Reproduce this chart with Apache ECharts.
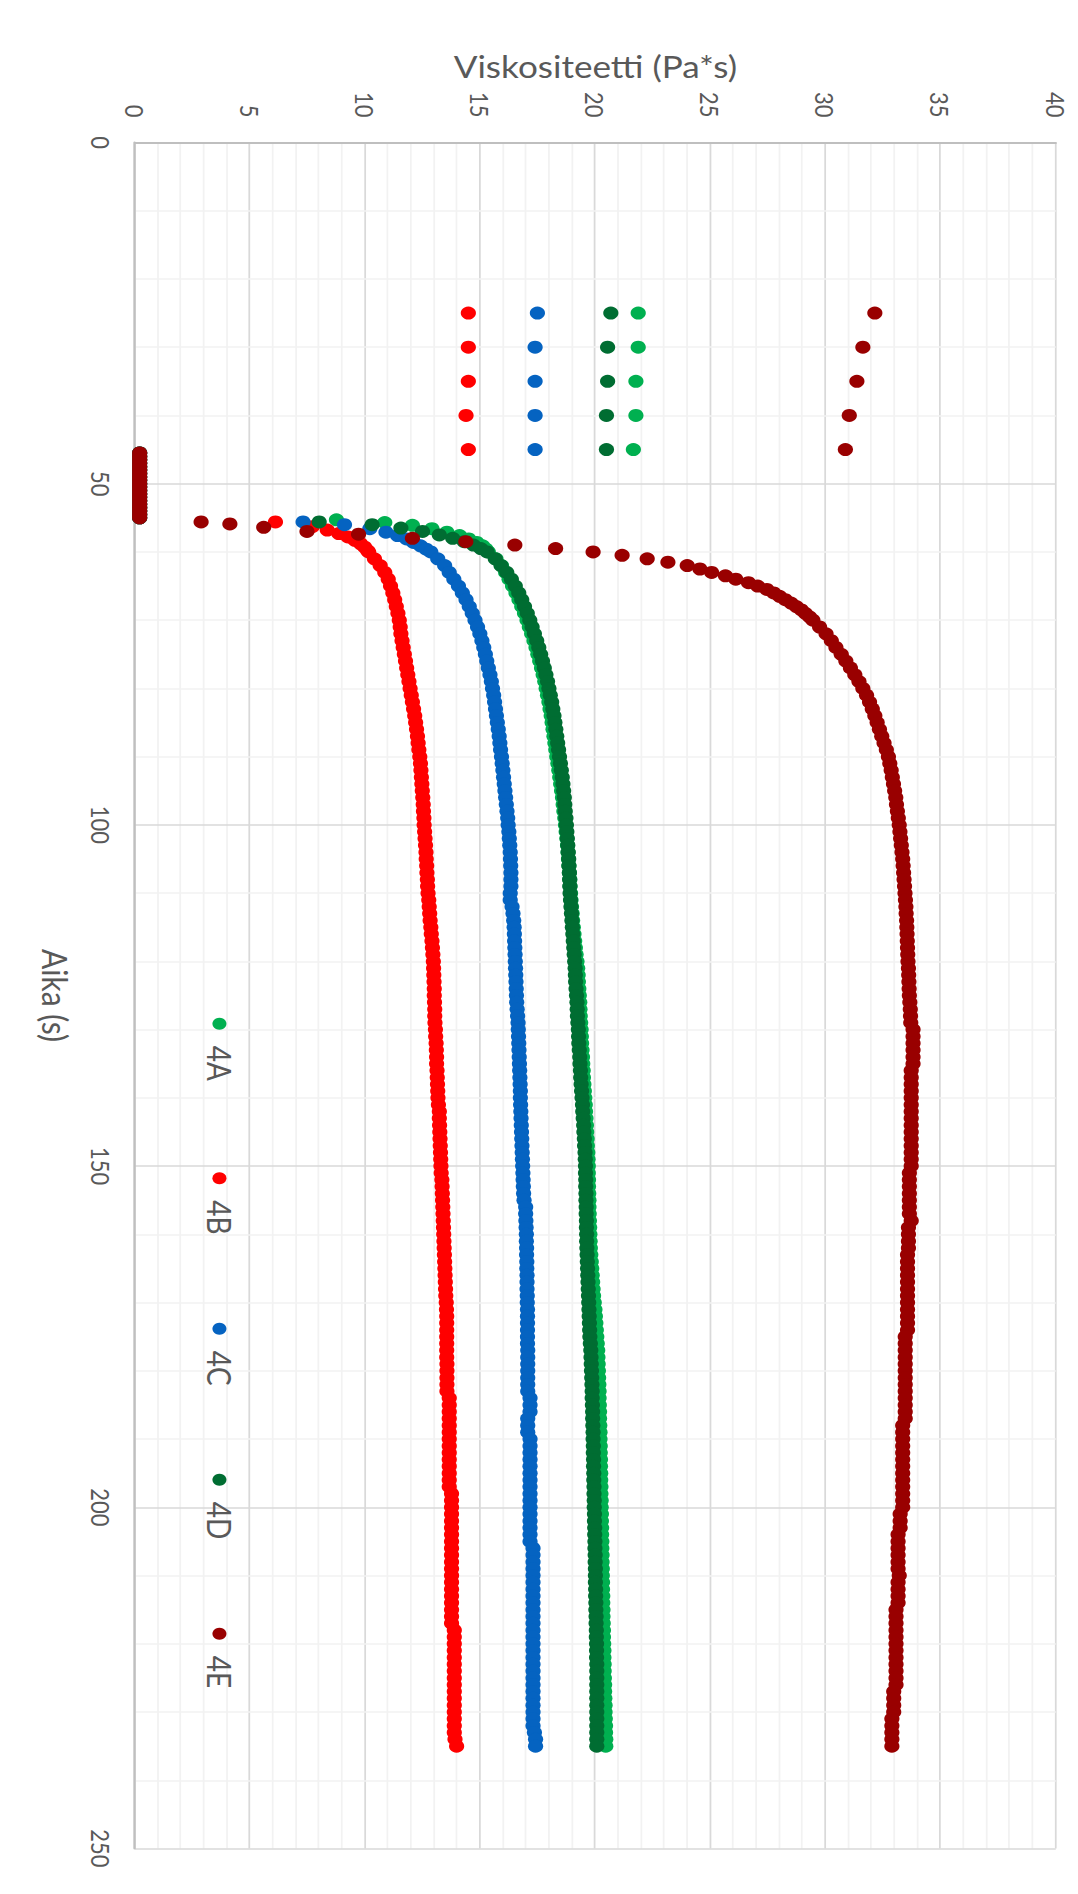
<!DOCTYPE html>
<html>
<head>
<meta charset="utf-8">
<title>Viskositeetti</title>
<script src="https://cdn.jsdelivr.net/npm/echarts@6.0.0/dist/echarts.min.js"></script>
<style>
  html, body { margin: 0; padding: 0; background: #ffffff; width: 1078px; height: 1894px; overflow: hidden; }
  #topRule { position: absolute; left: 0; top: 3px; width: 1078px; height: 3px; background: #d9d9d9; }
  /* The chart is laid out landscape and turned a quarter turn clockwise,
     with the horizontal screen direction stretched by 1078/921. */
  #chart { position: absolute; left: 0; top: 0; width: 1894px; height: 921px;
           transform-origin: 0 0; transform: matrix(0, 1, -1.1705, 0, 1078, 0); }
</style>
</head>
<body>
<div id="topRule"></div>
<div id="chart"></div>
<script>
// Sample names and marker colours
const sampleNames = ['4A', '4B', '4C', '4D', '4E'];
const sampleColors = ['#00B050', '#FF0000', '#0563C1', '#006D32', '#990000'];

// Resting readings before the shear step (s)
const startTimes = [25, 30, 35, 40, 45];
const start4A = [21.86, 21.86, 21.76, 21.76, 21.65];
const start4B = [14.48, 14.48, 14.48, 14.38, 14.48];
const start4C = [17.48, 17.38, 17.38, 17.38, 17.38];
const start4D = [20.67, 20.53, 20.53, 20.48, 20.48];
const start4E = [32.14, 31.62, 31.36, 31.03, 30.86];

// Readings near zero while the spindle is stopped (s)
const zeroTimes = [45.5, 46, 46.5, 47, 47.5, 48, 48.5, 49, 49.5, 50,
                   50.5, 51, 51.5, 52, 52.5, 53, 53.5, 54, 54.5, 55];
const zeroLevel = [0.2, 0.2, 0.2, 0.2, 0.2, 0.2, 0.2, 0.2, 0.2, 0.2,
                   0.2, 0.2, 0.2, 0.2, 0.2, 0.2, 0.2, 0.2, 0.2, 0.2];

// Recovery right after restart, [time, viscosity]
const rise4A = [[55.3, 8.75], [55.7, 10.85], [56.1, 12.05], [56.6, 12.9], [57.1, 13.55],
                [57.6, 14.1], [58.1, 14.5], [58.6, 14.85], [59.1, 15.1], [59.6, 15.25]];
const rise4B = [[55.6, 6.1], [56.3, 7.7], [56.8, 8.35], [57.3, 8.85], [57.8, 9.25],
                [58.3, 9.55], [58.8, 9.8], [59.3, 9.98], [59.8, 10.1]];
const rise4C = [[55.6, 7.3], [56.0, 9.1], [56.6, 10.2], [57.1, 10.9], [57.6, 11.4],
                [58.1, 11.8], [58.6, 12.1], [59.1, 12.4], [59.6, 12.65]];
const rise4D = [[55.6, 8.0], [56.0, 10.3], [56.5, 11.55], [57.0, 12.49], [57.5, 13.22],
                [58.0, 13.8], [58.5, 14.3], [59.0, 14.7], [59.5, 15.02]];
const rise4E = [[55.6, 2.87], [55.9, 4.12], [56.4, 5.59], [57.0, 7.47], [57.4, 9.71],
                [58.0, 12.05], [58.5, 14.37], [59.0, 16.5], [59.5, 18.27], [60.5, 21.16],
                [61.5, 23.15], [62.5, 24.54], [63.5, 25.65], [64.5, 26.65], [65.5, 27.45],
                [66.5, 28.0], [67.5, 28.5], [68.5, 28.95], [69.5, 29.3]];

// Logged times for the rest of the run (s)
const tailTimes = [
  60, 61, 62, 63, 64, 65, 66, 67, 68, 69,
  70, 71, 72, 73, 74, 75, 76, 77, 78, 79,
  80, 81, 82, 83, 84, 85, 86, 87, 88, 89,
  90, 91, 92, 93, 94, 95, 96, 97, 98, 99,
  100, 101, 102, 103, 104, 105, 106, 107, 108, 109,
  110, 111, 112, 113, 114, 115, 116, 117, 118, 119,
  120, 121, 122, 123, 124, 125, 126, 127, 128, 129,
  130, 131, 132, 133, 134, 135, 136, 137, 138, 139,
  140, 141, 142, 143, 144, 145, 146, 147, 148, 149,
  150, 151, 152, 153, 154, 155, 156, 157, 158, 159,
  160, 161, 162, 163, 164, 165, 166, 167, 168, 169,
  170, 171, 172, 173, 174, 175, 176, 177, 178, 179,
  180, 181, 182, 183, 184, 185, 186, 187, 188, 189,
  190, 191, 192, 193, 194, 195, 196, 197, 198, 199,
  200, 201, 202, 203, 204, 205, 206, 207, 208, 209,
  210, 211, 212, 213, 214, 215, 216, 217, 218, 219,
  220, 221, 222, 223, 224, 225, 226, 227, 228, 229,
  230, 231, 232, 233, 234, 235
];

const tail4A = [
  15.35, 15.68, 15.92, 16.1, 16.25, 16.4, 16.55, 16.68, 16.8, 16.92,
  17.03, 17.13, 17.23, 17.33, 17.42, 17.5, 17.58, 17.66, 17.73, 17.8,
  17.86, 17.92, 17.98, 18.03, 18.08, 18.12, 18.16, 18.2, 18.24, 18.28,
  18.32, 18.37, 18.41, 18.45, 18.49, 18.53, 18.57, 18.6, 18.63, 18.67,
  18.7, 18.73, 18.76, 18.79, 18.81, 18.83, 18.85, 18.87, 18.89, 18.9,
  18.92, 18.94, 18.96, 18.99, 19.01, 19.04, 19.07, 19.1, 19.13, 19.16,
  19.2, 19.23, 19.25, 19.26, 19.28, 19.3, 19.32, 19.33, 19.34, 19.36,
  19.38, 19.39, 19.4, 19.42, 19.44, 19.45, 19.47, 19.48, 19.5, 19.52,
  19.54, 19.56, 19.57, 19.59, 19.61, 19.62, 19.64, 19.65, 19.67, 19.68,
  19.69, 19.69, 19.7, 19.7, 19.71, 19.72, 19.72, 19.73, 19.74, 19.75,
  19.76, 19.77, 19.78, 19.8, 19.82, 19.84, 19.86, 19.88, 19.9, 19.92,
  19.95, 19.98, 20.0, 20.02, 20.04, 20.06, 20.08, 20.1, 20.11, 20.12,
  20.13, 20.14, 20.15, 20.16, 20.16, 20.17, 20.18, 20.18, 20.19, 20.2,
  20.2, 20.21, 20.21, 20.22, 20.22, 20.23, 20.23, 20.24, 20.24, 20.25,
  20.25, 20.26, 20.26, 20.27, 20.27, 20.28, 20.28, 20.29, 20.29, 20.3,
  20.3, 20.31, 20.31, 20.32, 20.32, 20.33, 20.33, 20.34, 20.35, 20.35,
  20.36, 20.37, 20.37, 20.38, 20.38, 20.39, 20.4, 20.4, 20.41, 20.42,
  20.42, 20.43, 20.44, 20.44, 20.45, 20.45
];

const tail4B = [
  10.15, 10.4, 10.65, 10.85, 11.0, 11.1, 11.2, 11.28, 11.35, 11.42,
  11.48, 11.52, 11.55, 11.6, 11.65, 11.7, 11.75, 11.8, 11.85, 11.9,
  11.95, 12.0, 12.05, 12.1, 12.15, 12.19, 12.23, 12.27, 12.3, 12.33,
  12.37, 12.4, 12.42, 12.44, 12.46, 12.48, 12.5, 12.52, 12.53, 12.55,
  12.56, 12.58, 12.6, 12.62, 12.64, 12.65, 12.67, 12.68, 12.7, 12.71,
  12.73, 12.76, 12.78, 12.8, 12.82, 12.85, 12.87, 12.9, 12.92, 12.94,
  12.96, 12.97, 12.98, 12.99, 13.0, 13.0, 13.01, 13.02, 13.02, 13.03,
  13.05, 13.06, 13.08, 13.09, 13.1, 13.1, 13.12, 13.13, 13.14, 13.15,
  13.16, 13.18, 13.22, 13.22, 13.23, 13.24, 13.25, 13.26, 13.27, 13.28,
  13.29, 13.3, 13.33, 13.34, 13.35, 13.36, 13.37, 13.38, 13.39, 13.4,
  13.41, 13.42, 13.43, 13.44, 13.45, 13.46, 13.47, 13.48, 13.49, 13.5,
  13.52, 13.53, 13.54, 13.54, 13.54, 13.54, 13.54, 13.54, 13.54, 13.55,
  13.55, 13.55, 13.55, 13.55, 13.65, 13.65, 13.65, 13.65, 13.65, 13.65,
  13.65, 13.65, 13.65, 13.65, 13.65, 13.65, 13.65, 13.65, 13.75, 13.75,
  13.75, 13.75, 13.75, 13.75, 13.75, 13.75, 13.75, 13.75, 13.75, 13.75,
  13.75, 13.75, 13.75, 13.75, 13.75, 13.75, 13.75, 13.75, 13.87, 13.87,
  13.87, 13.87, 13.87, 13.87, 13.87, 13.87, 13.87, 13.87, 13.87, 13.87,
  13.87, 13.87, 13.87, 13.87, 13.9, 13.97
];

const tail4C = [
  12.85, 13.15, 13.45, 13.65, 13.85, 14.05, 14.22, 14.38, 14.52, 14.65,
  14.77, 14.88, 14.98, 15.07, 15.15, 15.22, 15.28, 15.35, 15.42, 15.48,
  15.53, 15.58, 15.62, 15.66, 15.7, 15.74, 15.78, 15.82, 15.85, 15.88,
  15.92, 15.95, 15.98, 16.01, 16.04, 16.07, 16.1, 16.13, 16.16, 16.19,
  16.21, 16.24, 16.26, 16.28, 16.3, 16.31, 16.32, 16.33, 16.33, 16.33,
  16.3, 16.3, 16.38, 16.42, 16.45, 16.47, 16.48, 16.49, 16.5, 16.51,
  16.52, 16.53, 16.54, 16.55, 16.56, 16.57, 16.58, 16.6, 16.62, 16.64,
  16.65, 16.66, 16.67, 16.68, 16.69, 16.7, 16.71, 16.72, 16.73, 16.74,
  16.74, 16.75, 16.76, 16.77, 16.78, 16.79, 16.8, 16.81, 16.82, 16.83,
  16.84, 16.85, 16.86, 16.87, 16.88, 16.9, 16.97, 16.97, 16.98, 16.99,
  17.0, 17.0, 17.01, 17.01, 17.02, 17.02, 17.03, 17.03, 17.03, 17.04,
  17.04, 17.05, 17.05, 17.05, 17.05, 17.05, 17.05, 17.06, 17.06, 17.06,
  17.06, 17.06, 17.06, 17.06, 17.16, 17.16, 17.16, 17.06, 17.06, 17.06,
  17.16, 17.16, 17.16, 17.16, 17.16, 17.16, 17.16, 17.16, 17.16, 17.16,
  17.16, 17.16, 17.16, 17.16, 17.16, 17.16, 17.29, 17.29, 17.29, 17.29,
  17.29, 17.29, 17.29, 17.29, 17.29, 17.29, 17.29, 17.29, 17.29, 17.29,
  17.29, 17.29, 17.29, 17.29, 17.29, 17.29, 17.29, 17.29, 17.29, 17.29,
  17.29, 17.29, 17.29, 17.35, 17.4, 17.4
];

const tail4D = [
  15.3, 15.65, 15.9, 16.15, 16.35, 16.52, 16.67, 16.8, 16.92, 17.04,
  17.15, 17.25, 17.35, 17.45, 17.54, 17.62, 17.7, 17.78, 17.85, 17.92,
  17.98, 18.04, 18.1, 18.15, 18.2, 18.24, 18.28, 18.32, 18.36, 18.4,
  18.44, 18.48, 18.52, 18.56, 18.59, 18.62, 18.65, 18.67, 18.69, 18.72,
  18.74, 18.76, 18.78, 18.8, 18.82, 18.84, 18.85, 18.87, 18.88, 18.89,
  18.9, 18.92, 18.94, 18.96, 18.98, 19.0, 19.02, 19.04, 19.06, 19.08,
  19.1, 19.12, 19.13, 19.14, 19.16, 19.18, 19.2, 19.21, 19.22, 19.24,
  19.26, 19.27, 19.28, 19.3, 19.32, 19.33, 19.35, 19.36, 19.38, 19.4,
  19.42, 19.44, 19.45, 19.47, 19.49, 19.5, 19.52, 19.53, 19.55, 19.56,
  19.57, 19.57, 19.58, 19.58, 19.59, 19.59, 19.6, 19.6, 19.61, 19.61,
  19.62, 19.62, 19.63, 19.64, 19.65, 19.66, 19.67, 19.68, 19.69, 19.7,
  19.71, 19.72, 19.73, 19.74, 19.75, 19.76, 19.78, 19.8, 19.81, 19.82,
  19.83, 19.84, 19.85, 19.86, 19.86, 19.87, 19.88, 19.88, 19.89, 19.9,
  19.9, 19.91, 19.91, 19.92, 19.92, 19.93, 19.93, 19.94, 19.94, 19.95,
  19.95, 19.96, 19.96, 19.97, 19.97, 19.98, 19.98, 19.99, 19.99, 20.0,
  20.0, 20.0, 20.01, 20.01, 20.02, 20.02, 20.03, 20.03, 20.04, 20.04,
  20.05, 20.05, 20.05, 20.06, 20.06, 20.06, 20.06, 20.06, 20.06, 20.06,
  20.06, 20.06, 20.06, 20.06, 20.06, 20.06
];

const tail4E = [
  19.9, 22.25, 23.99, 25.05, 26.1, 27.05, 27.75, 28.25, 28.73, 29.12,
  29.45, 29.74, 30.02, 30.25, 30.45, 30.68, 30.88, 31.08, 31.27, 31.45,
  31.62, 31.78, 31.91, 32.03, 32.14, 32.24, 32.34, 32.44, 32.54, 32.64,
  32.73, 32.79, 32.85, 32.9, 32.95, 33.0, 33.05, 33.08, 33.12, 33.16,
  33.2, 33.23, 33.26, 33.29, 33.32, 33.35, 33.37, 33.39, 33.41, 33.43,
  33.45, 33.47, 33.49, 33.5, 33.52, 33.53, 33.54, 33.55, 33.56, 33.57,
  33.58, 33.6, 33.61, 33.62, 33.63, 33.64, 33.66, 33.68, 33.69, 33.7,
  33.8, 33.8, 33.8, 33.8, 33.8, 33.8, 33.72, 33.72, 33.72, 33.72,
  33.72, 33.72, 33.72, 33.72, 33.72, 33.72, 33.72, 33.72, 33.72, 33.72,
  33.72, 33.64, 33.64, 33.64, 33.64, 33.64, 33.64, 33.64, 33.72, 33.6,
  33.6, 33.6, 33.6, 33.56, 33.56, 33.56, 33.56, 33.56, 33.56, 33.56,
  33.56, 33.56, 33.56, 33.56, 33.56, 33.46, 33.46, 33.46, 33.46, 33.46,
  33.46, 33.46, 33.46, 33.46, 33.46, 33.46, 33.46, 33.46, 33.35, 33.35,
  33.35, 33.35, 33.35, 33.35, 33.35, 33.35, 33.35, 33.35, 33.35, 33.35,
  33.35, 33.24, 33.24, 33.24, 33.15, 33.15, 33.15, 33.15, 33.15, 33.15,
  33.2, 33.15, 33.15, 33.15, 33.15, 33.06, 33.06, 33.06, 33.06, 33.06,
  33.06, 33.06, 33.06, 33.06, 33.06, 33.06, 33.06, 32.96, 32.96, 32.96,
  32.96, 32.88, 32.88, 32.88, 32.88, 32.88
];

// Axis tick values
const timeTicks = [0, 50, 100, 150, 200, 250];
const viscTicks = [0, 5, 10, 15, 20, 25, 30, 35, 40];

// Legend slot positions along the time direction (px)
const legendSlots = [1017.7, 1172.3, 1322.7, 1473.7, 1627.7];

function collectPoints(startVals, risePairs, tailVals) {
  const pts = [];
  startTimes.forEach((t, i) => pts.push([t, startVals[i]]));
  zeroTimes.forEach((t, i) => pts.push([t, zeroLevel[i]]));
  risePairs.forEach(p => pts.push([p[0], p[1]]));
  tailTimes.forEach((t, i) => pts.push([t, tailVals[i]]));
  return pts;
}

const seriesPoints = [
  collectPoints(start4A, rise4A, tail4A),
  collectPoints(start4B, rise4B, tail4B),
  collectPoints(start4C, rise4C, tail4C),
  collectPoints(start4D, rise4D, tail4D),
  collectPoints(start4E, rise4E, tail4E)
];

const FONT = 'Lato, "Open Sans", "Noto Sans", sans-serif';
const TEXT_GREY = '#595959';

const chart = echarts.init(document.getElementById('chart'), null, { renderer: 'svg' });

const option = {
  animation: false,
  backgroundColor: '#ffffff',
  textStyle: { fontFamily: FONT, color: TEXT_GREY },
  grid: { left: 142.5, right: 45.5, top: 19, bottom: 115.4, containLabel: false, outerBoundsMode: 'none' },
  xAxis: {
    type: 'value',
    min: timeTicks[0],
    max: timeTicks[timeTicks.length - 1],
    interval: timeTicks[1] - timeTicks[0],
    name: 'Aika (s)',
    nameLocation: 'middle',
    nameGap: 53,
    nameTextStyle: { fontSize: 30, color: TEXT_GREY, fontFamily: FONT },
    axisLine: { show: true, onZero: false, lineStyle: { color: '#bfbfbf', width: 2 } },
    axisTick: { show: false },
    axisLabel: { margin: 17.5, fontSize: 22, color: TEXT_GREY, fontFamily: FONT, showMinLabel: true, showMaxLabel: true },
    splitLine: { show: true, lineStyle: { color: '#d9d9d9', width: 1.5 } },
    minorTick: { show: false, splitNumber: 5 },
    minorSplitLine: { show: true, lineStyle: { color: '#f2f2f2', width: 1.5 } }
  },
  yAxis: {
    type: 'value',
    min: viscTicks[0],
    max: viscTicks[viscTicks.length - 1],
    interval: viscTicks[1] - viscTicks[0],
    name: 'Viskositeetti (Pa*s)',
    nameLocation: 'middle',
    nameRotate: 90,
    nameGap: 60,
    nameTextStyle: { fontSize: 30, color: TEXT_GREY, fontFamily: FONT },
    axisLine: { show: true, onZero: false, lineStyle: { color: '#bfbfbf', width: 2 } },
    axisTick: { show: false },
    axisLabel: { margin: 25, fontSize: 22, color: TEXT_GREY, fontFamily: FONT, showMinLabel: true, showMaxLabel: true },
    splitLine: { show: true, lineStyle: { color: '#d9d9d9', width: 1.5 } },
    minorTick: { show: false, splitNumber: 5 },
    minorSplitLine: { show: true, lineStyle: { color: '#f2f2f2', width: 1.5 } }
  },
  legend: sampleNames.map((name, i) => ({
    data: [name],
    left: legendSlots[i],
    top: 719.5,
    padding: 0,
    icon: 'circle',
    itemWidth: 34,
    itemHeight: 12,
    selectedMode: false,
    textStyle: { fontSize: 28, color: TEXT_GREY, fontFamily: FONT }
  })),
  series: sampleNames.map((name, i) => ({
    name: name,
    type: 'scatter',
    symbol: 'circle',
    symbolSize: 13,
    itemStyle: { color: sampleColors[i], opacity: 1 },
    emphasis: { disabled: true },
    data: seriesPoints[i]
  }))
};

chart.setOption(option);
</script>
</body>
</html>
